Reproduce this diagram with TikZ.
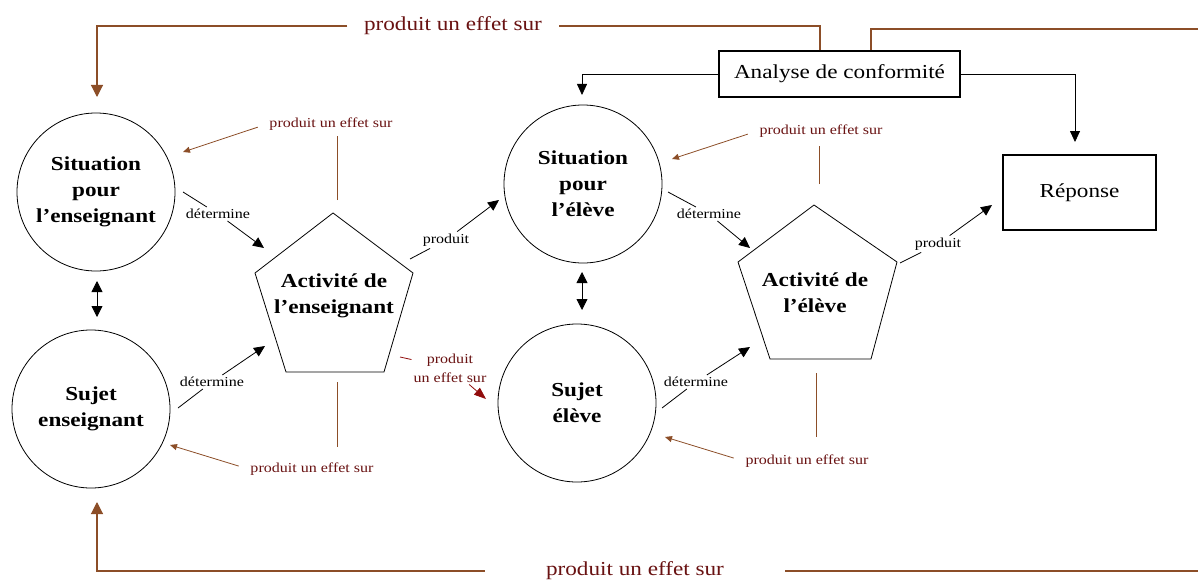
\documentclass[tikz,border=0pt]{standalone}
\usepackage{fontspec}
\setmainfont{Liberation Serif}[FakeStretch=1.17]
\usetikzlibrary{arrows.meta}
\definecolor{brn}{RGB}{140,78,40}
\definecolor{lbl}{RGB}{105,18,18}
\definecolor{redarr}{RGB}{145,12,12}
\newcommand\dgBig{\fontsize{19.8}{26}\selectfont\bfseries}
\newcommand\dgMid{\fontsize{19.8}{26}\selectfont}
\newcommand\dgSmall{\fontsize{13.7}{19}\selectfont}
\begin{document}
\begin{tikzpicture}[x=1pt,y=-1pt,
  circ/.style={draw,circle,minimum size=158pt,inner sep=0pt,align=center,font=\dgBig,line width=0.8pt},
  boxn/.style={draw,line width=1.2pt,inner sep=0pt,font=\dgMid},
  pent/.style={draw,line width=0.8pt},
  acttxt/.style={align=center,font=\dgBig,inner sep=0pt},
  lab/.style={font=\dgSmall,inner sep=2pt},
  efflab/.style={font=\dgSmall,text=lbl,inner sep=2pt},
  thinline/.style={line width=0.8pt},
  blk/.style={line width=0.8pt,-{Triangle[length=11pt,width=10pt]}},
  dbl/.style={line width=0.8pt,{Triangle[length=11pt,width=11pt]}-{Triangle[length=11pt,width=11pt]}},
  brnline/.style={draw=brn,line width=0.8pt},
  brnarr/.style={draw=brn,line width=0.8pt,-{Triangle[length=7pt,width=6pt]}},
  redline/.style={draw=redarr,line width=0.8pt},
  redarrow/.style={draw=redarr,line width=0.8pt,-{Triangle[length=12pt,width=9pt]}},
  loopline/.style={draw=brn,line width=1.1pt},
  looparr/.style={draw=brn,line width=1.1pt,-{Triangle[length=12pt,width=12pt]}},
  biglab/.style={font=\dgMid,text=lbl,inner ysep=2pt}
]
\useasboundingbox (0,0) rectangle (1198,583);

% circles
\node[circ] (sitens) at (96,192) {Situation\\pour\\l’enseignant};
\node[circ] (sujens) at (91,409) {Sujet\\enseignant};
\node[circ] (sitel) at (583,184) {Situation\\pour\\l’élève};
\node[circ] (sujel) at (577,403) {Sujet\\élève};

% boxes
\node[boxn,minimum width=241pt,minimum height=46pt] (ana) at (839.5,74) {Analyse de conformité};
\node[boxn,minimum width=153pt,minimum height=75pt] (rep) at (1079.5,192.5) {Réponse};

% pentagons
\coordinate (p1a) at (333,213);
\coordinate (p1b) at (413,273);
\coordinate (p1c) at (384,372);
\coordinate (p1d) at (286,372);
\coordinate (p1e) at (255,273);
\draw[pent] (p1a) -- (p1b) -- (p1c) -- (p1d) -- (p1e) -- cycle;
\node[acttxt] (act1) at (334,296) {Activité de\\l’enseignant};
\coordinate (p2a) at (814,205);
\coordinate (p2b) at (897,262);
\coordinate (p2c) at (871,359);
\coordinate (p2d) at (770,359);
\coordinate (p2e) at (738,262);
\draw[pent] (p2a) -- (p2b) -- (p2c) -- (p2d) -- (p2e) -- cycle;
\node[acttxt] (act2) at (815,293) {Activité de\\l’élève};

% double arrows
\coordinate (da1) at (97,281);
\coordinate (da2) at (97,317);
\draw[dbl] (da1) -- (da2);
\coordinate (db1) at (582,272);
\coordinate (db2) at (582,310);
\draw[dbl] (db1) -- (db2);

% determine / produit connectors
\coordinate (s1) at (183,192); \coordinate (t1) at (264,248);
\node[lab] (l1) at (218,214) {détermine};
\draw[thinline] (s1) -- (l1); \draw[blk] (l1) -- (t1);

\coordinate (s2) at (410,259); \coordinate (t2) at (499,200);
\node[lab] (l2) at (446,240) {produit};
\draw[thinline] (s2) -- (l2); \draw[blk] (l2) -- (t2);

\coordinate (s3) at (178,408); \coordinate (t3) at (265,346);
\node[lab] (l3) at (212,382) {détermine};
\draw[thinline] (s3) -- (l3); \draw[blk] (l3) -- (t3);

\coordinate (s7) at (668,192); \coordinate (t7) at (750,248);
\node[lab] (l7) at (709,214) {détermine};
\draw[thinline] (s7) -- (l7); \draw[blk] (l7) -- (t7);

\coordinate (s8) at (900,263); \coordinate (t8) at (992,205);
\node[lab] (l8) at (938,244) {produit};
\draw[thinline] (s8) -- (l8); \draw[blk] (l8) -- (t8);

\coordinate (s9) at (662,408); \coordinate (t9) at (750,347);
\node[lab] (l9) at (696,382) {détermine};
\draw[thinline] (s9) -- (l9); \draw[blk] (l9) -- (t9);

% red connector
\coordinate (s4) at (400,357); \coordinate (t4) at (486,399);
\node[efflab,align=center] (l4) at (450,368) {produit\\un effet sur};
\draw[redline] (s4) -- (l4); \draw[redarrow] (l4) -- (t4);

% effect connectors
\coordinate (v5) at (337,200); \coordinate (t5) at (183,152);
\node[efflab] (e5) at (331,124) {produit un effet sur};
\draw[brnline,shorten >=4pt] (v5) -- (v5 |- e5.south);
\draw[brnarr,shorten <=10pt] (e5.west) -- (t5);

\coordinate (v6) at (337,382); \coordinate (t6) at (170,445);
\node[efflab] (e6) at (312,469) {produit un effet sur};
\draw[brnline,shorten >=14pt] (v6) -- (v6 |- e6.north);
\draw[brnarr,shorten <=10pt] (e6.west) -- (t6);

\coordinate (v10) at (819,184); \coordinate (t10) at (672,159);
\node[efflab] (e10) at (821,131) {produit un effet sur};
\draw[brnline,shorten >=7pt] (v10) -- (v10 |- e10.south);
\draw[brnarr,shorten <=10pt] (e10.west) -- (t10);

\coordinate (v11) at (816,373); \coordinate (t11) at (665,437);
\node[efflab] (e11) at (807,461) {produit un effet sur};
\draw[brnline,shorten >=16pt] (v11) -- (v11 |- e11.north);
\draw[brnarr,shorten <=10pt] (e11.west) -- (t11);

% analyse connectors
\coordinate (c3in) at (582,95);
\coordinate (repin) at (1075,142);
\draw[blk] (ana.west) -| (c3in);
\draw[blk] (ana.east) -| (repin);

% top loop
\node[biglab,inner xsep=16.5pt] (toplab) at (453,26) {produit un effet sur};
\coordinate (k1) at (820,26);
\coordinate (k2) at (97,97);
\draw[loopline] (ana.north -| k1) -- (k1) -- (toplab.east);
\draw[looparr] (toplab.west) -| (k2);
\coordinate (k3) at (871,29);
\coordinate (k4) at (1198,29);
\draw[loopline] (ana.north -| k3) -- (k3) -- (k4);

% bottom loop
\node[biglab,inner xsep=61pt] (botlab) at (635,571) {produit un effet sur};
\coordinate (k5) at (1198,571);
\coordinate (k6) at (97,502);
\draw[loopline] (k5) -- (botlab.east);
\draw[looparr] (botlab.west) -| (k6);
\end{tikzpicture}
\end{document}
